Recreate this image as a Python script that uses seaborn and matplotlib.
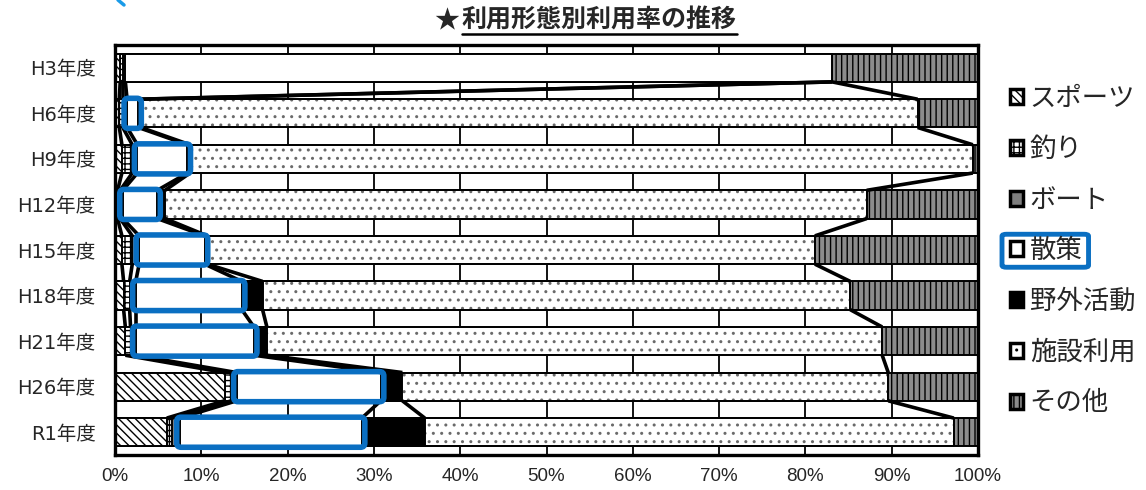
import matplotlib
matplotlib.use("Agg")
import matplotlib.pyplot as plt
import seaborn as sns
import pandas as pd
import numpy as np
from matplotlib.patches import Patch, Rectangle, FancyBboxPatch
from matplotlib.lines import Line2D

# ---- data (percent of visitors by type of use) ----
years = ["H3年度", "H6年度", "H9年度", "H12年度", "H15年度",
         "H18年度", "H21年度", "H26年度", "R1年度"]
sports   = [0.6, 0.5, 0.8, 0.3, 0.8, 1.0, 1.2, 12.7, 6.0]
fishing  = [0.3, 0.4, 1.2, 0.3, 1.2, 0.7, 0.6, 0.8, 0.6]
boat     = [0.3, 0.5, 0.6, 0.3, 0.8, 0.7, 0.6, 0.6, 0.9]
walking  = [81.9, 1.3, 5.8, 4.0, 7.6, 12.3, 13.7, 16.7, 21.1]
outdoor  = [0.0, 0.3, 0.3, 0.9, 0.3, 2.4, 1.5, 2.5, 7.3]
facility = [0.0, 90.0, 90.7, 81.3, 70.4, 68.1, 71.3, 56.3, 61.3]
other    = [16.9, 7.0, 0.6, 12.9, 18.9, 14.8, 11.1, 10.4, 2.8]

series_names = ["スポーツ", "釣り", "ボート", "散策", "野外活動", "施設利用", "その他"]
series_vals = [sports, fishing, boat, walking, outdoor, facility, other]
highlight_series = "散策"
highlight_from = 1  # frames start at H6年度

styles = {
    "スポーツ": dict(color="white", hatch="\\\\\\\\", hatch_color="black"),
    "釣り":     dict(color="white", hatch="+++", hatch_color="black"),
    "ボート":   dict(color="#7f7f7f", hatch=None, hatch_color="black"),
    "散策":     dict(color="white", hatch=None, hatch_color="black"),
    "野外活動": dict(color="black", hatch=None, hatch_color="black"),
    "施設利用": dict(color="white", hatch="..", hatch_color="#6a6a6a"),
    "その他":   dict(color="#8c8c8c", hatch="|||", hatch_color="black"),
}
blue = "#0a6fc2"

df = pd.DataFrame(dict(zip(series_names, series_vals)), index=years)
cum = df.cumsum(axis=1)

sns.set_theme(style="white")
plt.rcParams["font.family"] = ["DejaVu Sans", "Noto Sans CJK JP"]
plt.rcParams["hatch.linewidth"] = 1.0

W, H = 1146, 490
fig = plt.figure(figsize=(W / 100, H / 100), dpi=100)
ax = fig.add_axes([115 / W, 35 / H, 863 / W, 410 / H])

bar_h = 0.62

# stacked bars: paint cumulative totals from the largest down
long = cum.reset_index().rename(columns={"index": "year"})
for name in reversed(series_names):
    st = styles[name]
    kw = {}
    if st["hatch"]:
        kw["hatch"] = st["hatch"]
    n_before = len(ax.patches)
    sns.barplot(data=long, x=name, y="year", orient="h", order=years,
                color=st["color"], saturation=1, width=bar_h,
                edgecolor=st["hatch_color"], linewidth=1.4, ax=ax,
                zorder=2, **kw)
    if st["hatch_color"] != "black":
        # hatch drawn in grey; give the bars a black outline on top
        for p in list(ax.patches[n_before:]):
            ax.add_patch(Rectangle(p.get_xy(), p.get_width(), p.get_height(),
                                   fill=False, edgecolor="black", lw=1.4,
                                   zorder=2))

# series lines joining the segment boundaries of neighbouring bars
for k in range(len(series_names) - 1):
    b = cum.iloc[:, k].values
    for i in range(len(years) - 1):
        ax.plot([b[i], b[i + 1]], [i + bar_h / 2, i + 1 - bar_h / 2],
                color="black", lw=2.6, solid_capstyle="butt", zorder=3)

# blue highlight frames around the walking segments
start = (cum[highlight_series] - df[highlight_series]).values
end = cum[highlight_series].values
for i in range(highlight_from, len(years)):
    pad_x = 0.35
    rect = FancyBboxPatch((start[i] - pad_x, i - bar_h / 2 - 0.02),
                          end[i] - start[i] + 2 * pad_x, bar_h + 0.04,
                          boxstyle="round,pad=0,rounding_size=0.5",
                          mutation_aspect=0.19,
                          fill=False, edgecolor=blue, lw=4.0, zorder=5)
    ax.add_patch(rect)

ax.set_xlim(0, 100)
ax.set_ylim(len(years) - 0.5, -0.5)
ax.set_xticks(np.arange(0, 101, 10))
ax.set_xticklabels([f"{v}%" for v in range(0, 101, 10)],
                   fontfamily=["Liberation Sans", "DejaVu Sans"],
                   fontsize=13.5)
ax.set_yticks(range(len(years)))
ax.set_yticklabels(years, fontsize=14)
ax.tick_params(axis="both", length=0)
ax.tick_params(axis="y", pad=14)
ax.tick_params(axis="x", pad=9)
ax.set_xlabel("")
ax.set_ylabel("")
ax.set_axisbelow(True)
ax.xaxis.grid(True, color="black", lw=1.3)
ax.yaxis.grid(False)
for sp in ax.spines.values():
    sp.set_visible(True)
    sp.set_color("black")
    sp.set_linewidth(2.4)

# title with underline
cjk = ["Noto Sans CJK JP", "DejaVu Sans"]
t_main = fig.text(599 / W, 1 - 21 / H, "利用形態別利用率の推移", ha="center",
                  va="center", fontsize=18, fontweight="bold", family=cjk)
fig.canvas.draw()
r = fig.canvas.get_renderer()
bb = t_main.get_window_extent(r)
fig.text((bb.x0 - 2) / W, 1 - 21 / H, "★", ha="right", va="center",
         fontsize=18, fontweight="bold", family=cjk)
fig.add_artist(Line2D([bb.x0 / W, bb.x1 / W], [(bb.y0 - 1) / H] * 2,
                      color="black", lw=1.8))

# legend
handles = []
for name in series_names:
    st = styles[name]
    handles.append(Patch(facecolor=st["color"], hatch=st["hatch"],
                         edgecolor="black", linewidth=2.5))
leg = fig.legend(handles, series_names, loc="upper left",
                 bbox_to_anchor=(1010 / W, 1 - 85 / H), frameon=False,
                 prop=dict(family=cjk, size=19), handlelength=0.5,
                 handleheight=0.5, handletextpad=0.25, labelspacing=0.9,
                 borderaxespad=0, borderpad=0)

fig.canvas.draw()
idx = series_names.index(highlight_series)
tb = leg.get_texts()[idx].get_window_extent(r)
hb = leg.legend_handles[idx].get_window_extent(r)
x0, x1 = hb.x0 - 8, tb.x1 + 6
y0, y1 = min(tb.y0, hb.y0) - 3, max(tb.y1, hb.y1) + 3
fig.add_artist(FancyBboxPatch((x0 / W, y0 / H), (x1 - x0) / W, (y1 - y0) / H,
                              boxstyle="round,pad=0,rounding_size=0.004",
                              fill=False, edgecolor=blue, lw=3.5,
                              transform=fig.transFigure))

# fragment of a blue frame at the upper-left edge
fig.add_artist(Line2D([118 / W, 124 / W], [1.0, 1 - 5 / H],
                      color="#1a9be8", lw=2.5))

fig.savefig("out.png", dpi=100)
